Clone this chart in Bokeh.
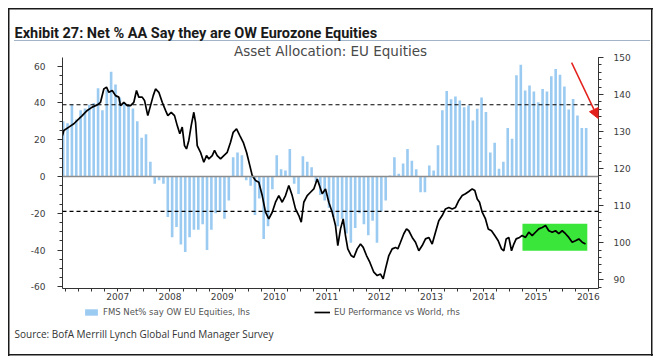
import pandas as pd
from bokeh.plotting import figure
from bokeh.layouts import column
from bokeh.models import (Range1d, LinearAxis, FixedTicker, PrintfTickFormatter, Span,
                          BoxAnnotation, Arrow, NormalHead, Legend, LegendItem, Title, Label)
from bokeh.embed import file_html
from bokeh.resources import INLINE

# ---------------- data ----------------
months = pd.date_range("2006-06-01", "2016-06-01", freq="MS")
fms_net = [30, 29, 39, 31, 36, 37, 39, 40, 48, 36,
           47, 57, 50, 43, 39.5, 38.6, 37, 30, 21, 23,
           8, -4, -2, -4, -22, -33, -27.5, -37, -41, -33,
           -29, -29, -26, -40, -29, -20, -19, -23, -13, 10.5,
           13, 11.5, -2, -5, -21, -12, -34, -27, -7, 11.5,
           4, 3.3, 15, -4, -9.5, 11, 8, 5, -3, -10,
           -13, -17, -22, -27, -23, -31, -36, -28, -20, -26,
           -32, -24, -36, -19, -13, 0.5, 10.5, 1.5, 7, 15,
           8.5, 4, -8.5, -8.5, 6, 3.3, 17, 36, 46.5, 42,
           43.5, 41.3, 37.7, 38.6, 30.4, 36.8, 43, 35, 13, 18.3,
           4.2, 8, 26.3, 20.5, 55, 60.7, 46.7, 49.5, 46.2, 40.4,
           47.6, 46.2, 54.5, 58.5, 55.3, 49, 36.4, 42.2, 33.2, 26.3,
           26.3]
bar_x = [d.year + (d.month - 0.5) / 12 for d in months]

perf_x = [2006.445, 2006.47, 2006.566, 2006.662, 2006.757, 2006.822, 2006.918, 2007.013, 2007.109, 2007.172,
          2007.235, 2007.287, 2007.331, 2007.396, 2007.459, 2007.522, 2007.554, 2007.618, 2007.683, 2007.746,
          2007.809, 2007.860, 2007.904, 2007.969, 2008.013, 2008.076, 2008.128, 2008.180, 2008.224, 2008.287,
          2008.352, 2008.415, 2008.459, 2008.524, 2008.587, 2008.639, 2008.688, 2008.734, 2008.778, 2008.816,
          2008.860, 2008.906, 2008.956, 2008.989, 2009.021, 2009.084, 2009.147, 2009.199, 2009.243, 2009.308,
          2009.352, 2009.403, 2009.467, 2009.530, 2009.595, 2009.658, 2009.709, 2009.773, 2009.836, 2009.901,
          2009.964, 2010.027, 2010.073, 2010.136, 2010.199, 2010.264, 2010.327, 2010.390, 2010.455, 2010.518,
          2010.581, 2010.646, 2010.709, 2010.772, 2010.837, 2010.900, 2010.964, 2011.010, 2011.059, 2011.124,
          2011.187, 2011.250, 2011.316, 2011.411, 2011.474, 2011.537, 2011.602, 2011.665, 2011.709, 2011.761,
          2011.812, 2011.856, 2011.900, 2011.965, 2012.015, 2012.080, 2012.143, 2012.195, 2012.258, 2012.321,
          2012.398, 2012.463, 2012.526, 2012.577, 2012.621, 2012.685, 2012.749, 2012.813, 2012.857, 2012.908,
          2012.971, 2013.023, 2013.067, 2013.132, 2013.195, 2013.258, 2013.323, 2013.386, 2013.449, 2013.514,
          2013.577, 2013.640, 2013.705, 2013.768, 2013.832, 2013.897, 2013.960, 2014.023, 2014.088, 2014.151,
          2014.214, 2014.279, 2014.329, 2014.375, 2014.419, 2014.470, 2014.533, 2014.585, 2014.648, 2014.711,
          2014.776, 2014.839, 2014.883, 2014.929, 2014.979, 2015.031, 2015.075, 2015.120, 2015.184, 2015.235,
          2015.298, 2015.361, 2015.426, 2015.489, 2015.553, 2015.618, 2015.681, 2015.744, 2015.809, 2015.872,
          2015.935, 2016.000, 2016.063, 2016.126, 2016.191, 2016.254, 2016.317, 2016.382, 2016.446]
perf_y = [128.9, 130.3, 131.2, 132.1, 133.4, 134.3, 135.7, 136.6, 137.2, 137.9,
          141.5, 142.0, 140.6, 141.1, 139.7, 139.3, 137.0, 137.9, 137.0, 137.0,
          137.9, 141.1, 139.3, 139.3, 138.4, 134.3, 137.0, 139.7, 141.5, 140.6,
          137.9, 135.7, 134.3, 135.2, 134.3, 131.6, 129.4, 131.2, 126.2, 125.3,
          127.6, 131.6, 135.2, 132.5, 126.2, 124.4, 121.7, 123.5, 122.6, 123.5,
          124.9, 123.5, 122.6, 123.5, 124.4, 127.1, 129.8, 130.7, 128.9, 127.1,
          124.4, 120.8, 118.1, 116.8, 116.3, 112.7, 108.2, 106.4, 108.2, 110.9,
          112.7, 110.9, 112.7, 115.4, 112.7, 109.1, 107.3, 105.5, 110.9, 112.7,
          113.6, 114.5, 117.2, 113.2, 114.5, 110.9, 108.2, 104.6, 99.2, 103.7,
          106.4, 101.9, 98.3, 96.5, 96.0, 98.3, 99.6, 98.7, 96.5, 94.7,
          92.0, 91.1, 91.5, 90.2, 92.9, 96.5, 98.3, 98.7, 98.3, 100.1,
          102.4, 103.7, 103.2, 101.4, 100.1, 97.8, 99.2, 101.0, 101.4, 99.6,
          102.8, 105.9, 107.3, 109.1, 109.5, 109.1, 109.5, 111.4, 112.7, 113.2,
          113.8, 114.5, 114.1, 111.8, 110.9, 108.2, 106.4, 103.7, 103.2, 101.9,
          100.5, 98.3, 97.8, 101.0, 101.4, 97.8, 99.6, 101.0, 101.4, 101.9,
          101.4, 102.8, 101.9, 102.8, 103.7, 104.1, 104.6, 103.2, 102.8, 103.2,
          102.4, 103.2, 102.4, 101.4, 100.1, 100.5, 101.0, 100.1, 99.6]

years = list(range(2007, 2017))
lhs_ticks = [-60, -40, -20, 0, 20, 40, 60]
rhs_ticks = [90, 100, 110, 120, 130, 140, 150]
upper_band, lower_band = 39, -19
box_x = (2015.24, 2016.48)
box_y = (97.8, 105.1)
arrow_start = (2016.18, 148.6)
arrow_end = (2016.69, 133.5)

title_text = "Exhibit 27: Net % AA Say they are OW Eurozone Equities"
subtitle_text = "Asset Allocation: EU Equities"
source_text = "Source: BofA Merrill Lynch Global Fund Manager Survey"
leg1 = "FMS Net% say OW EU Equities, lhs"
leg2 = "EU Performance vs World, rhs"

BAR_COL = "#9ccbf2"
AX_FONT = "DejaVu Sans"
AX_COL = "#3c3c3c"
EDGE = "#1a1a1a"
NAN = float("nan")

# ---------------- main chart ----------------
W, H1, H2 = 661, 306, 58
p = figure(width=W, height=H1, title=None, x_range=Range1d(2006.445, 2016.694), y_range=Range1d(-60.9, 64.7),
           output_backend="svg", toolbar_location=None, x_axis_type=None, y_axis_type=None,
           min_border_left=62, min_border_right=63, min_border_top=57, min_border_bottom=18)
p.extra_y_ranges = {"rhs": Range1d(87.6, 150)}
p.outline_line_color = None
p.background_fill_color = "white"
p.border_fill_color = None
p.styles = {
    "background": (f"linear-gradient({EDGE},{EDGE}) 8px 8px / 1.5px {H1 - 8}px no-repeat, "
                   f"linear-gradient({EDGE},{EDGE}) 651px 8px / 1.5px {H1 - 8}px no-repeat, "
                   f"linear-gradient({EDGE},{EDGE}) 8px 8px / 645px 1.5px no-repeat, "
                   "linear-gradient(#a3b4c8,#a3b4c8) 14px 40px / 636px 1px no-repeat, #ffffff"),
}

def style_axis(ax):
    ax.axis_line_color = "#333333"
    ax.axis_line_width = 1
    ax.major_tick_line_color = "#333333"
    ax.minor_tick_line_color = "#333333"
    ax.major_label_text_font = AX_FONT
    ax.major_label_text_font_size = "9px"
    ax.major_label_text_color = AX_COL

la = LinearAxis(ticker=FixedTicker(ticks=lhs_ticks, minor_ticks=list(range(-60, 65, 5))),
                formatter=PrintfTickFormatter(format="%d"))
style_axis(la)
la.major_tick_out, la.major_tick_in = 5, 0
la.minor_tick_out, la.minor_tick_in = 3, 0
la.major_label_standoff = 12
p.add_layout(la, "left")

ra = LinearAxis(y_range_name="rhs", ticker=FixedTicker(ticks=rhs_ticks, minor_ticks=list(range(88, 151, 2))),
                formatter=PrintfTickFormatter(format="%d"))
style_axis(ra)
ra.major_tick_out, ra.major_tick_in = 5, 0
ra.minor_tick_out, ra.minor_tick_in = 3, 0
ra.major_label_standoff = 10
p.add_layout(ra, "right")

quarters = [y + q / 4 for y in range(2006, 2017) for q in range(4) if 2006.5 <= y + q / 4 <= 2016.6]
xa = LinearAxis(ticker=FixedTicker(ticks=[y + 0.5 for y in years], minor_ticks=quarters),
                major_label_overrides={y + 0.5: str(y) for y in years})
style_axis(xa)
xa.major_tick_out, xa.major_tick_in = 0, 0
xa.minor_tick_out, xa.minor_tick_in = 3, 0
xa.major_label_standoff = 1
p.add_layout(xa, "below")

p.add_layout(BoxAnnotation(left=box_x[0], right=box_x[1], bottom=box_y[0], top=box_y[1],
                           y_range_name="rhs", fill_color="#3be63a", fill_alpha=1.0,
                           line_color=None, level="underlay"))

p.vbar(x=bar_x, top=fms_net, bottom=0, width=0.05, fill_color=BAR_COL, line_color=None)

p.add_layout(Span(location=0, dimension="width", line_color="#8c8c8c", line_width=1.5))
for loc in (upper_band, lower_band):
    p.add_layout(Span(location=loc, dimension="width", line_color="black", line_width=1.2, line_dash="4 3"))

p.line(perf_x, perf_y, y_range_name="rhs", line_color="black", line_width=1.7)

p.add_layout(Arrow(end=NormalHead(size=10, fill_color="#e3201b", line_color="#e3201b"),
                   x_start=arrow_start[0], y_start=arrow_start[1], x_end=arrow_end[0], y_end=arrow_end[1],
                   y_range_name="rhs", line_color="#e3201b", line_width=1.5))

p.add_layout(Title(text=subtitle_text, align="center", text_font="DejaVu Sans", text_font_size="13.5px",
                   text_font_style="normal", text_color="#4a4a4a", standoff=-2), "above")
p.add_layout(Title(text=title_text, align="left", offset=-48, text_font="Roboto",
                   text_font_style="bold", text_font_size="14.5px", text_color="#1a1a1a", standoff=0), "above")

# ---------------- footer: legend + source ----------------
f = figure(width=W, height=H2, title=None, x_range=Range1d(0, W), y_range=Range1d(H2, 0),
           output_backend="svg", toolbar_location=None, x_axis_type=None, y_axis_type=None,
           min_border_left=0, min_border_right=0, min_border_top=0, min_border_bottom=0)
f.outline_line_color = None
f.background_fill_color = None
f.border_fill_color = None
f.styles = {
    "background": (f"linear-gradient({EDGE},{EDGE}) 8px 0px / 1.5px 50px no-repeat, "
                   f"linear-gradient({EDGE},{EDGE}) 651px 0px / 1.5px 50px no-repeat, "
                   f"linear-gradient({EDGE},{EDGE}) 8px 48px / 645px 1.5px no-repeat, #ffffff"),
}
for fig in (p, f):
    if "frame_align" in fig.properties():
        fig.frame_align = False

# legend keys (renderers without visible data; only their swatches are shown)
key_bars = f.vbar(x=[NAN], top=[NAN], width=1, fill_color=BAR_COL, line_color=None)
key_line = f.line(x=[NAN], y=[NAN], line_color="black", line_width=1.7)
legend = Legend(items=[LegendItem(label=leg1, renderers=[key_bars]), LegendItem(label=leg2, renderers=[key_line])],
                orientation="horizontal", location=(83, H2 - 11), background_fill_alpha=0,
                border_line_color=None, padding=0, margin=0, spacing=64, glyph_width=16,
                glyph_height=8, label_height=8, label_standoff=4, label_text_font=AX_FONT,
                label_text_font_size="8.5px", label_text_color="#555555")
f.add_layout(legend)
f.add_layout(Label(x=14, y=27, text=source_text, text_font="Open Sans", text_font_size="10px",
                   text_color="#333333", text_baseline="alphabetic"))

layout = column(p, f, spacing=0)
open("out.html", "w").write(file_html(layout, INLINE))
